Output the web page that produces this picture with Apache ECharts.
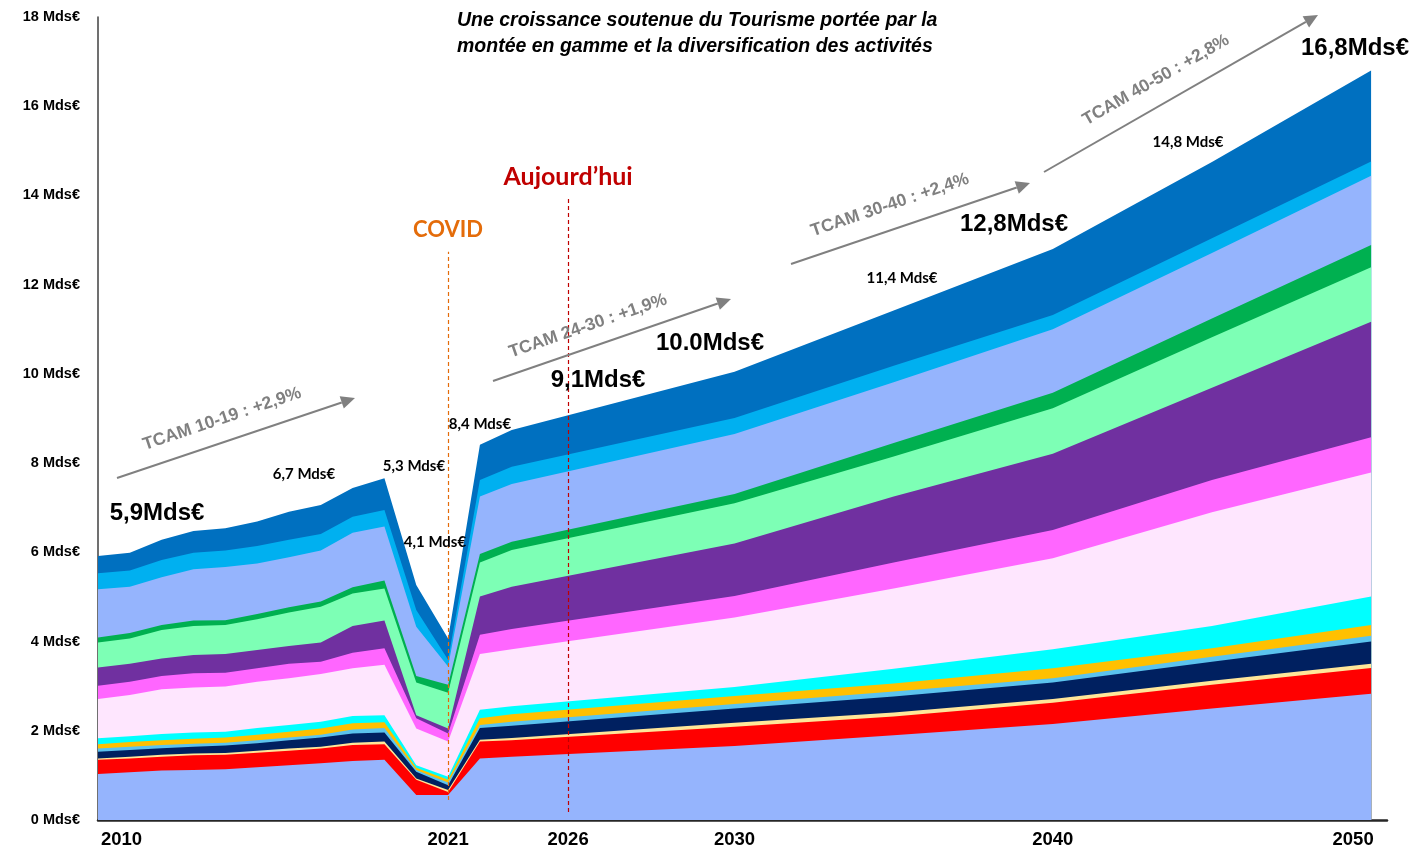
<!DOCTYPE html>
<html>
<head>
<meta charset="utf-8">
<script src="https://cdn.jsdelivr.net/npm/echarts@6/dist/echarts.min.js"></script>
<style>
html,body{margin:0;padding:0;background:#fff;}
#chart{width:1414px;height:853px;}
</style>
</head>
<body>
<div id="chart"></div>
<script>
// ---- DATA (Mds€ per band, bottom to top) ----
const years = [2010,2011,2012,2013,2014,2015,2016,2017,2018,2019,2020,2021,2022,2023,2030,2035,2040,2045,2050];
const bandBase    = [1.03,1.07,1.11,1.12,1.14,1.18,1.23,1.27,1.32,1.35,0.56,0.56,1.38,1.42,1.66,1.90,2.15,2.50,2.83];
const bandRed     = [0.32,0.31,0.31,0.33,0.32,0.33,0.32,0.33,0.36,0.35,0.34,0.07,0.38,0.37,0.43,0.42,0.48,0.53,0.58];
const bandCream   = [0.03,0.04,0.04,0.04,0.04,0.04,0.05,0.04,0.05,0.06,0.03,0.04,0.04,0.05,0.09,0.09,0.08,0.09,0.09];
const bandNavy    = [0.15,0.15,0.15,0.15,0.17,0.17,0.19,0.21,0.21,0.20,0.15,0.11,0.26,0.27,0.32,0.36,0.37,0.43,0.50];
const bandSky     = [0.07,0.07,0.07,0.07,0.06,0.07,0.06,0.06,0.09,0.10,0.04,0.06,0.07,0.09,0.10,0.11,0.10,0.11,0.13];
const bandOrange  = [0.10,0.11,0.11,0.11,0.12,0.12,0.13,0.14,0.14,0.13,0.05,0.06,0.15,0.17,0.18,0.18,0.22,0.19,0.24];
const bandCyan    = [0.13,0.13,0.14,0.14,0.13,0.15,0.15,0.15,0.16,0.16,0.06,0.07,0.19,0.18,0.20,0.33,0.43,0.50,0.64];
const bandPale    = [0.88,0.92,1.00,1.01,1.01,1.04,1.05,1.07,1.07,1.13,0.82,0.79,1.25,1.28,1.56,1.80,2.04,2.55,2.78];
const bandMagenta = [0.30,0.30,0.30,0.32,0.31,0.30,0.32,0.28,0.35,0.37,0.23,0.18,0.43,0.45,0.48,0.58,0.63,0.72,0.79];
const bandPurple  = [0.41,0.40,0.39,0.41,0.42,0.41,0.40,0.43,0.60,0.62,0.07,0.11,0.86,0.95,1.18,1.48,1.71,2.07,2.59];
const bandMint    = [0.56,0.57,0.64,0.65,0.65,0.69,0.75,0.80,0.73,0.72,0.73,0.80,0.76,0.82,0.90,0.90,1.02,1.13,1.22];
const bandGreen   = [0.11,0.12,0.11,0.12,0.11,0.12,0.12,0.12,0.14,0.18,0.15,0.18,0.19,0.19,0.21,0.30,0.35,0.42,0.50];
const bandPeri    = [1.08,1.04,1.07,1.15,1.19,1.13,1.12,1.14,1.22,1.21,1.10,0.41,1.29,1.29,1.34,1.36,1.42,1.47,1.55];
const bandLBlue   = [0.36,0.36,0.39,0.37,0.37,0.39,0.39,0.37,0.36,0.37,0.38,0.15,0.37,0.39,0.36,0.37,0.32,0.33,0.32];
const bandDBlue   = [0.39,0.40,0.45,0.49,0.50,0.55,0.63,0.65,0.64,0.71,0.56,0.48,0.79,0.82,1.04,1.24,1.48,1.71,2.04];

const xTickValues = [2010, 2021, 2024.77, 2030, 2040, 2050];
const xTickLabels = ['2010', '2021', '2026', '2030', '2040', '2050'];
const covidYear = 2021;
const todayYear = 2024.77;

const bands = [
  ['Base', bandBase, '#95B4FD'],
  ['Rouge', bandRed, '#FF0000'],
  ['Crème', bandCream, '#FFE699'],
  ['Marine', bandNavy, '#002060'],
  ['Ciel', bandSky, '#5BC3EE'],
  ['Orange', bandOrange, '#FFC000'],
  ['Cyan', bandCyan, '#00FFFF'],
  ['Rose pâle', bandPale, '#FEE6FE'],
  ['Magenta', bandMagenta, '#FF66FF'],
  ['Violet', bandPurple, '#7030A0'],
  ['Menthe', bandMint, '#7DFFB5'],
  ['Vert', bandGreen, '#00B050'],
  ['Pervenche', bandPeri, '#95B4FD'],
  ['Bleu clair', bandLBlue, '#00B0F0'],
  ['Bleu', bandDBlue, '#0070C0']
];

// stack the bands (running sum of the values), then draw top band first so lower bands paint over it
const running = years.map(function () { return 0; });
const stacked = bands.map(function (b) {
  const tops = b[1].map(function (v, k) { running[k] = +(running[k] + v).toFixed(4); return running[k]; });
  return { name: b[0], color: b[2], tops: tops };
});

const series = stacked.slice().reverse().map(function (s) {
  return {
    name: s.name, type: 'line', symbol: 'none', showSymbol: false,
    lineStyle: { width: 0 }, areaStyle: { color: s.color, opacity: 1, origin: 'start' }, itemStyle: { color: s.color },
    emphasis: { disabled: true }, silent: true,
    data: years.map(function (y, k) { return [y, s.tops[k]]; })
  };
});

series[series.length - 1].markLine = {
  silent: true, symbol: ['none', 'none'], animation: false,
  data: [
    [{ coord: [covidYear, 0.45], lineStyle: { color: '#E46C0A', type: [4, 3], width: 1.2 },
       label: { show: true, position: 'end', formatter: 'COVID', color: '#E46C0A', fontSize: 22, fontWeight: 'bold', fontFamily: 'Lato', distance: 11 } },
     { coord: [covidYear, 12.74] }],
    [{ coord: [todayYear, 0.18], lineStyle: { color: '#C00000', type: [4, 3], width: 1.2 },
       label: { show: true, position: 'end', formatter: 'Aujourd\u2019hui', color: '#C00000', fontSize: 25, fontWeight: 'bold', fontFamily: 'Lato', distance: 8 } },
     { coord: [todayYear, 13.95] }]
  ]
};

// ---- Annotations ----
const graphics = [];
function text(x, y, t, font, color, rot) {
  graphics.push({
    type: 'text', x: x, y: y, rotation: rot || 0, silent: true, z: 100,
    style: { text: t, x: 0, y: 0, font: font, fill: color, align: 'center', verticalAlign: 'middle', textAlign: 'center', textVerticalAlign: 'middle' }
  });
}
function arrow(x1, y1, x2, y2) {
  const dx = x2 - x1, dy = y2 - y1, len = Math.sqrt(dx * dx + dy * dy);
  const ux = dx / len, uy = dy / len, L = 14, W = 6.5;
  const bx = x2 - ux * L, by = y2 - uy * L;
  graphics.push({ type: 'line', silent: true, z: 100, shape: { x1: x1, y1: y1, x2: bx, y2: by }, style: { stroke: '#808080', lineWidth: 2 } });
  graphics.push({ type: 'polygon', silent: true, z: 100, shape: { points: [[x2, y2], [bx - uy * W, by + ux * W], [bx + uy * W, by - ux * W]] }, style: { fill: '#808080' } });
  return Math.atan2(-dy, dx);
}
const bigFont = 'bold 24px "Liberation Sans", Arial, sans-serif';
const smallFont = 'bold 15px Lato, "Liberation Sans", sans-serif';
const tcamFont = 'bold 17.5px "Liberation Sans", Arial, sans-serif';

text(157, 513, '5,9Mds€', bigFont, '#000');
text(304, 474, '6,7 Mds€', smallFont, '#000');
text(414, 466, '5,3 Mds€', smallFont, '#000');
text(435, 542, '4,1 Mds€', smallFont, '#000');
text(480, 424, '8,4 Mds€', smallFont, '#000');
text(598, 380, '9,1Mds€', bigFont, '#000');
text(710, 343, '10.0Mds€', bigFont, '#000');
text(902, 278, '11,4 Mds€', smallFont, '#000');
text(1014, 224, '12,8Mds€', bigFont, '#000');
text(1188, 142, '14,8 Mds€', smallFont, '#000');
text(1355, 48, '16,8Mds€', bigFont, '#000');

let a;
a = arrow(117, 478, 355, 398); text(222, 419, 'TCAM 10-19 : +2,9%', tcamFont, '#808080', a);
a = arrow(493, 381, 731, 299); text(588, 326, 'TCAM 24-30 : +1,9%', tcamFont, '#808080', a);
a = arrow(791, 264, 1030, 183); text(890, 205, 'TCAM 30-40 : +2,4%', tcamFont, '#808080', a);
a = arrow(1044, 172, 1318, 15); text(1156, 80, 'TCAM 40-50 : +2,8%', tcamFont, '#808080', a);

const titleFont = 'italic bold 19.5px "Liberation Sans", Arial, sans-serif';
graphics.push({ type: 'text', x: 457, y: 21, silent: true, z: 100, style: { text: 'Une croissance soutenue du Tourisme portée par la', font: titleFont, fill: '#000', align: 'left', verticalAlign: 'middle', textAlign: 'left', textVerticalAlign: 'middle' } });
graphics.push({ type: 'text', x: 457, y: 47, silent: true, z: 100, style: { text: 'montée en gamme et la diversification des activités', font: titleFont, fill: '#000', align: 'left', verticalAlign: 'middle', textAlign: 'left', textVerticalAlign: 'middle' } });

const chart = echarts.init(document.getElementById('chart'), null, { renderer: 'canvas' });
chart.setOption({
  animation: false,
  backgroundColor: '#ffffff',
  grid: { left: 98, right: 27, top: 17, bottom: 33, containLabel: false },
  xAxis: {
    type: 'value', min: 2010, max: 2050.5,
    axisLine: { show: true, lineStyle: { color: '#262626', width: 2.5 } },
    axisTick: { show: false },
    splitLine: { show: false },
    axisLabel: {
      customValues: xTickValues,
      alignMinLabel: 'left',
      margin: 10,
      color: '#000', fontSize: 18.5, fontWeight: 'bold', fontFamily: '"Liberation Sans", Arial, sans-serif',
      formatter: function (v) {
        const k = xTickValues.indexOf(v);
        if (k < 0) return '';
        if (k === 0) return '{s|' + xTickLabels[k] + '}';
        return k === xTickValues.length - 1 ? '{e|' + xTickLabels[k] + '}' : xTickLabels[k];
      },
      rich: {
        e: { color: '#000', fontSize: 18.5, fontWeight: 'bold', fontFamily: '"Liberation Sans", Arial, sans-serif', padding: [0, 36, 0, 0] },
        s: { color: '#000', fontSize: 18.5, fontWeight: 'bold', fontFamily: '"Liberation Sans", Arial, sans-serif', padding: [0, 0, 0, 3] }
      }
    }
  },
  yAxis: {
    type: 'value', min: 0, max: 18, interval: 2,
    axisLine: { show: true, lineStyle: { color: '#404040', width: 1.5 } },
    axisTick: { show: false },
    splitLine: { show: false },
    axisLabel: {
      margin: 18, color: '#000', fontSize: 14.5, fontWeight: 'bold', fontFamily: '"Liberation Sans", Arial, sans-serif',
      formatter: function (v) { return v + ' Mds€'; }
    }
  },
  series: series,
  graphic: graphics
});
</script>
</body>
</html>
